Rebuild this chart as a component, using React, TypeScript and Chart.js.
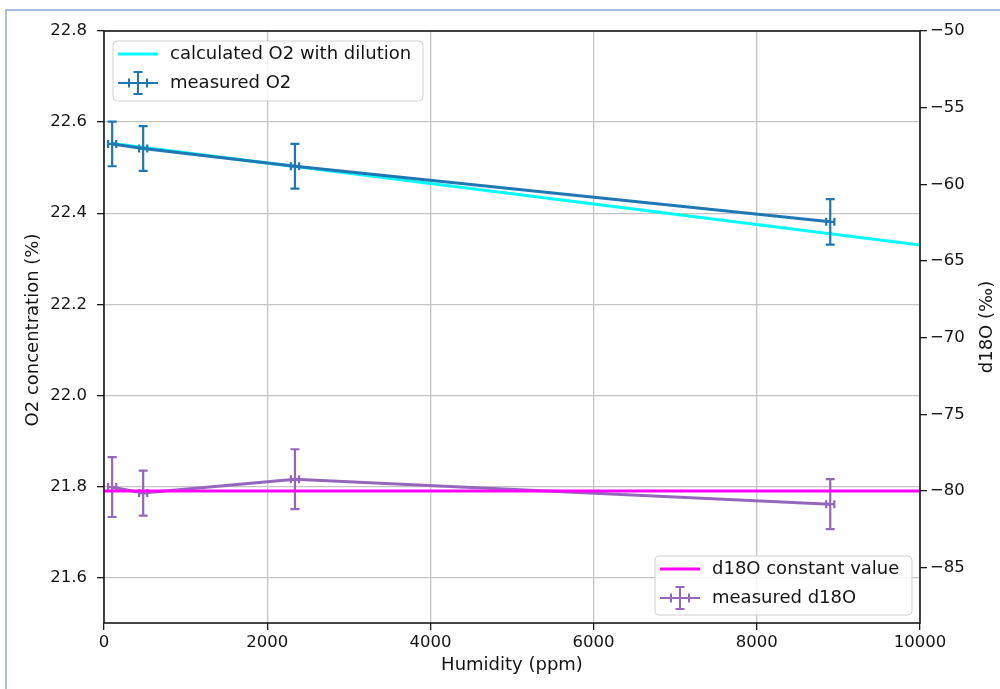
import React, { useEffect, useRef } from "react";
import { Chart, registerables } from "chart.js";

Chart.register(...registerables);

// ---- data ----
const humidity = [100, 480, 2340, 8900];
const humidityErr = [50, 50, 50, 50];
const o2Measured = [22.552, 22.542, 22.503, 22.381];
const o2Err = [0.049, 0.049, 0.049, 0.05];
const d18oMeasured = [-79.74, -80.13, -79.22, -80.85];
const d18oErr = [1.95, 1.47, 1.95, 1.63];
const calcHumidity = [100, 10000];
const calcO2 = [22.553, 22.33];
const constHumidity = [0, 10000];
const d18oConst = [-80.0, -80.0];

const xTicks = [0, 2000, 4000, 6000, 8000, 10000];
const leftTicks = [21.6, 21.8, 22.0, 22.2, 22.4, 22.6, 22.8];
const rightTicks = [-85, -80, -75, -70, -65, -60, -55, -50];

const FONT = "'DejaVu Sans', sans-serif";
const TXT = "#141414";
const C_CYAN = "#00ffff";
const C_BLUE = "#1f77b4";
const C_MAGENTA = "#ff00ff";
const C_PURPLE = "#9467bd";

const pts = (xs: number[], ys: number[]) => xs.map((x, i) => ({ x, y: ys[i] }));

function drawErrGlyph(ctx: CanvasRenderingContext2D, x0: number, x1: number, y: number, color: string) {
  const cx = (x0 + x1) / 2;
  ctx.save();
  ctx.strokeStyle = color;
  ctx.lineWidth = 2;
  ctx.beginPath();
  ctx.moveTo(x0, y);
  ctx.lineTo(x1, y);
  ctx.moveTo(cx, y - 11);
  ctx.lineTo(cx, y + 11);
  ctx.moveTo(cx - 4.5, y - 11);
  ctx.lineTo(cx + 4.5, y - 11);
  ctx.moveTo(cx - 4.5, y + 11);
  ctx.lineTo(cx + 4.5, y + 11);
  ctx.moveTo(cx - 9, y - 4.5);
  ctx.lineTo(cx - 9, y + 4.5);
  ctx.moveTo(cx + 9, y - 4.5);
  ctx.lineTo(cx + 9, y + 4.5);
  ctx.stroke();
  ctx.restore();
}

function drawLegend(
  ctx: CanvasRenderingContext2D,
  left: number,
  top: number,
  w: number,
  h: number,
  items: { label: string; color: string; err: boolean }[]
) {
  ctx.save();
  ctx.beginPath();
  (ctx as any).roundRect(left, top, w, h, 4);
  ctx.fillStyle = "rgba(255,255,255,0.85)";
  ctx.fill();
  ctx.strokeStyle = "#d0d0d0";
  ctx.lineWidth = 1;
  ctx.stroke();
  ctx.font = `18px ${FONT}`;
  ctx.textBaseline = "middle";
  ctx.textAlign = "left";
  items.forEach((it, i) => {
    const y = top + 13 + i * 29;
    const x0 = left + 5;
    const x1 = left + 45;
    if (it.err) {
      drawErrGlyph(ctx, x0, x1, y, it.color);
    } else {
      ctx.strokeStyle = it.color;
      ctx.lineWidth = 3;
      ctx.beginPath();
      ctx.moveTo(x0, y);
      ctx.lineTo(x1, y);
      ctx.stroke();
    }
    ctx.fillStyle = TXT;
    ctx.fillText(it.label, left + 57, y);
  });
  ctx.restore();
}

const customPlugin = {
  id: "customDraw",
  beforeDraw(chart: any) {
    const ctx = chart.ctx;
    ctx.save();
    ctx.fillStyle = "#ffffff";
    ctx.fillRect(0, 0, chart.width, chart.height);
    ctx.restore();
  },
  afterDatasetDraw(chart: any, args: any) {
    const ds = chart.data.datasets[args.index];
    if (!ds.yErr) return;
    const ctx = chart.ctx;
    const xs = chart.scales.x;
    const ys = chart.scales[ds.yAxisID];
    ctx.save();
    ctx.strokeStyle = ds.borderColor;
    ctx.lineWidth = 2.2;
    ds.data.forEach((p: any, i: number) => {
      const px = xs.getPixelForValue(p.x);
      const py = ys.getPixelForValue(p.y);
      const yTop = ys.getPixelForValue(p.y + ds.yErr[i]);
      const yBot = ys.getPixelForValue(p.y - ds.yErr[i]);
      const xL = xs.getPixelForValue(p.x - ds.xErr[i]);
      const xR = xs.getPixelForValue(p.x + ds.xErr[i]);
      ctx.beginPath();
      ctx.moveTo(px, yTop);
      ctx.lineTo(px, yBot);
      ctx.moveTo(px - 4.5, yTop);
      ctx.lineTo(px + 4.5, yTop);
      ctx.moveTo(px - 4.5, yBot);
      ctx.lineTo(px + 4.5, yBot);
      ctx.moveTo(xL, py);
      ctx.lineTo(xR, py);
      ctx.moveTo(xL, py - 4);
      ctx.lineTo(xL, py + 4);
      ctx.moveTo(xR, py - 4);
      ctx.lineTo(xR, py + 4);
      ctx.stroke();
    });
    ctx.restore();
  },
  afterDraw(chart: any) {
    const ctx = chart.ctx;
    const ca = chart.chartArea;
    // frame
    ctx.save();
    ctx.strokeStyle = "#1a1a1a";
    ctx.lineWidth = 1.6;
    ctx.strokeRect(ca.left, ca.top, ca.right - ca.left, ca.bottom - ca.top);
    ctx.restore();

    // axis titles
    ctx.save();
    ctx.fillStyle = TXT;
    ctx.font = `18px ${FONT}`;
    ctx.textAlign = "center";
    ctx.textBaseline = "middle";
    ctx.fillText("Humidity (ppm)", (ca.left + ca.right) / 2, 665);
    ctx.save();
    ctx.translate(33, (ca.top + ca.bottom) / 2 + 3);
    ctx.rotate(-Math.PI / 2);
    ctx.fillText("O2 concentration (%)", 0, 0);
    ctx.restore();
    ctx.save();
    ctx.translate(987, (ca.top + ca.bottom) / 2);
    ctx.rotate(-Math.PI / 2);
    ctx.fillText("d18O (‰)", 0, 0);
    ctx.restore();
    ctx.restore();

    // legends
    drawLegend(ctx, ca.left + 9, ca.top + 10, 310, 60, [
      { label: "calculated O2 with dilution", color: C_CYAN, err: false },
      { label: "measured O2", color: C_BLUE, err: true },
    ]);
    drawLegend(ctx, ca.right - 265, ca.bottom - 67, 257, 59, [
      { label: "d18O constant value", color: C_MAGENTA, err: false },
      { label: "measured d18O", color: C_PURPLE, err: true },
    ]);

    // outer blue border of the screenshot
    ctx.save();
    ctx.strokeStyle = "#8aa8d8";
    ctx.lineWidth = 1.5;
    ctx.beginPath();
    ctx.moveTo(6, chart.height);
    ctx.lineTo(6, 10);
    ctx.lineTo(chart.width, 10);
    ctx.stroke();
    ctx.restore();
  },
};

export default function App() {
  const ref = useRef<HTMLCanvasElement | null>(null);

  useEffect(() => {
    if (!ref.current) return;
    const tickFont = { family: FONT, size: 16.5 };
    const chart = new Chart(ref.current, {
      type: "line",
      data: {
        datasets: [
          {
            label: "calculated O2 with dilution",
            data: pts(calcHumidity, calcO2),
            borderColor: C_CYAN,
            backgroundColor: C_CYAN,
            borderWidth: 3,
            pointRadius: 0,
            yAxisID: "y",
            order: 4,
          },
          {
            label: "measured O2",
            data: pts(humidity, o2Measured),
            borderColor: C_BLUE,
            backgroundColor: C_BLUE,
            borderWidth: 3,
            pointRadius: 0,
            yAxisID: "y",
            order: 3,
            yErr: o2Err,
            xErr: humidityErr,
          } as any,
          {
            label: "measured d18O",
            data: pts(humidity, d18oMeasured),
            borderColor: C_PURPLE,
            backgroundColor: C_PURPLE,
            borderWidth: 3,
            pointRadius: 0,
            yAxisID: "y1",
            order: 2,
            yErr: d18oErr,
            xErr: humidityErr,
          } as any,
          {
            label: "d18O constant value",
            data: pts(constHumidity, d18oConst),
            borderColor: C_MAGENTA,
            backgroundColor: C_MAGENTA,
            borderWidth: 3,
            pointRadius: 0,
            yAxisID: "y1",
            order: 1,
          },
        ],
      },
      options: {
        responsive: false,
        animation: false,
        devicePixelRatio: 1,
        layout: { padding: { top: 31, left: 0, right: 0, bottom: 0 } },
        plugins: {
          legend: { display: false },
          tooltip: { enabled: false },
          title: { display: false },
        },
        scales: {
          x: {
            type: "linear",
            position: "bottom",
            min: 0,
            max: 10000,
            afterBuildTicks: (s: any) => {
              s.ticks = xTicks.map((v) => ({ value: v }));
            },
            afterFit: (s: any) => {
              s.height = 66;
            },
            grid: {
              color: "#c4c4c4",
              lineWidth: 1.3,
              tickColor: "#1a1a1a",
              tickLength: 7,
            },
            border: { display: false },
            ticks: {
              font: tickFont,
              color: TXT,
              padding: 3,
              maxRotation: 0,
              callback: (v: any) => String(v),
            },
          },
          y: {
            type: "linear",
            position: "left",
            min: 21.5,
            max: 22.8,
            afterBuildTicks: (s: any) => {
              s.ticks = leftTicks.map((v) => ({ value: v }));
            },
            afterFit: (s: any) => {
              s.width = 104;
            },
            grid: {
              color: "#c4c4c4",
              lineWidth: 1.3,
              tickColor: "#1a1a1a",
              tickLength: 7,
            },
            border: { display: false },
            ticks: {
              font: tickFont,
              color: TXT,
              padding: 10,
              callback: (v: any) => Number(v).toFixed(1),
            },
          },
          y1: {
            type: "linear",
            position: "right",
            min: -88.6,
            max: -50,
            afterBuildTicks: (s: any) => {
              s.ticks = rightTicks.map((v) => ({ value: v }));
            },
            afterFit: (s: any) => {
              s.width = 80;
            },
            grid: {
              drawOnChartArea: false,
              tickColor: "#1a1a1a",
              tickLength: 7,
              lineWidth: 1.3,
            },
            border: { display: false },
            ticks: {
              font: tickFont,
              color: TXT,
              padding: 3,
              callback: (v: any) => String(v).replace("-", "\u2212"),
            },
          },
        },
      },
      plugins: [customPlugin as any],
    } as any);
    return () => chart.destroy();
  }, []);

  return (
    <div style={{ position: "absolute", left: 0, top: 0, width: 1000, height: 689, background: "#fff" }}>
      <canvas ref={ref} width={1000} height={689} style={{ display: "block" }} />
    </div>
  );
}
